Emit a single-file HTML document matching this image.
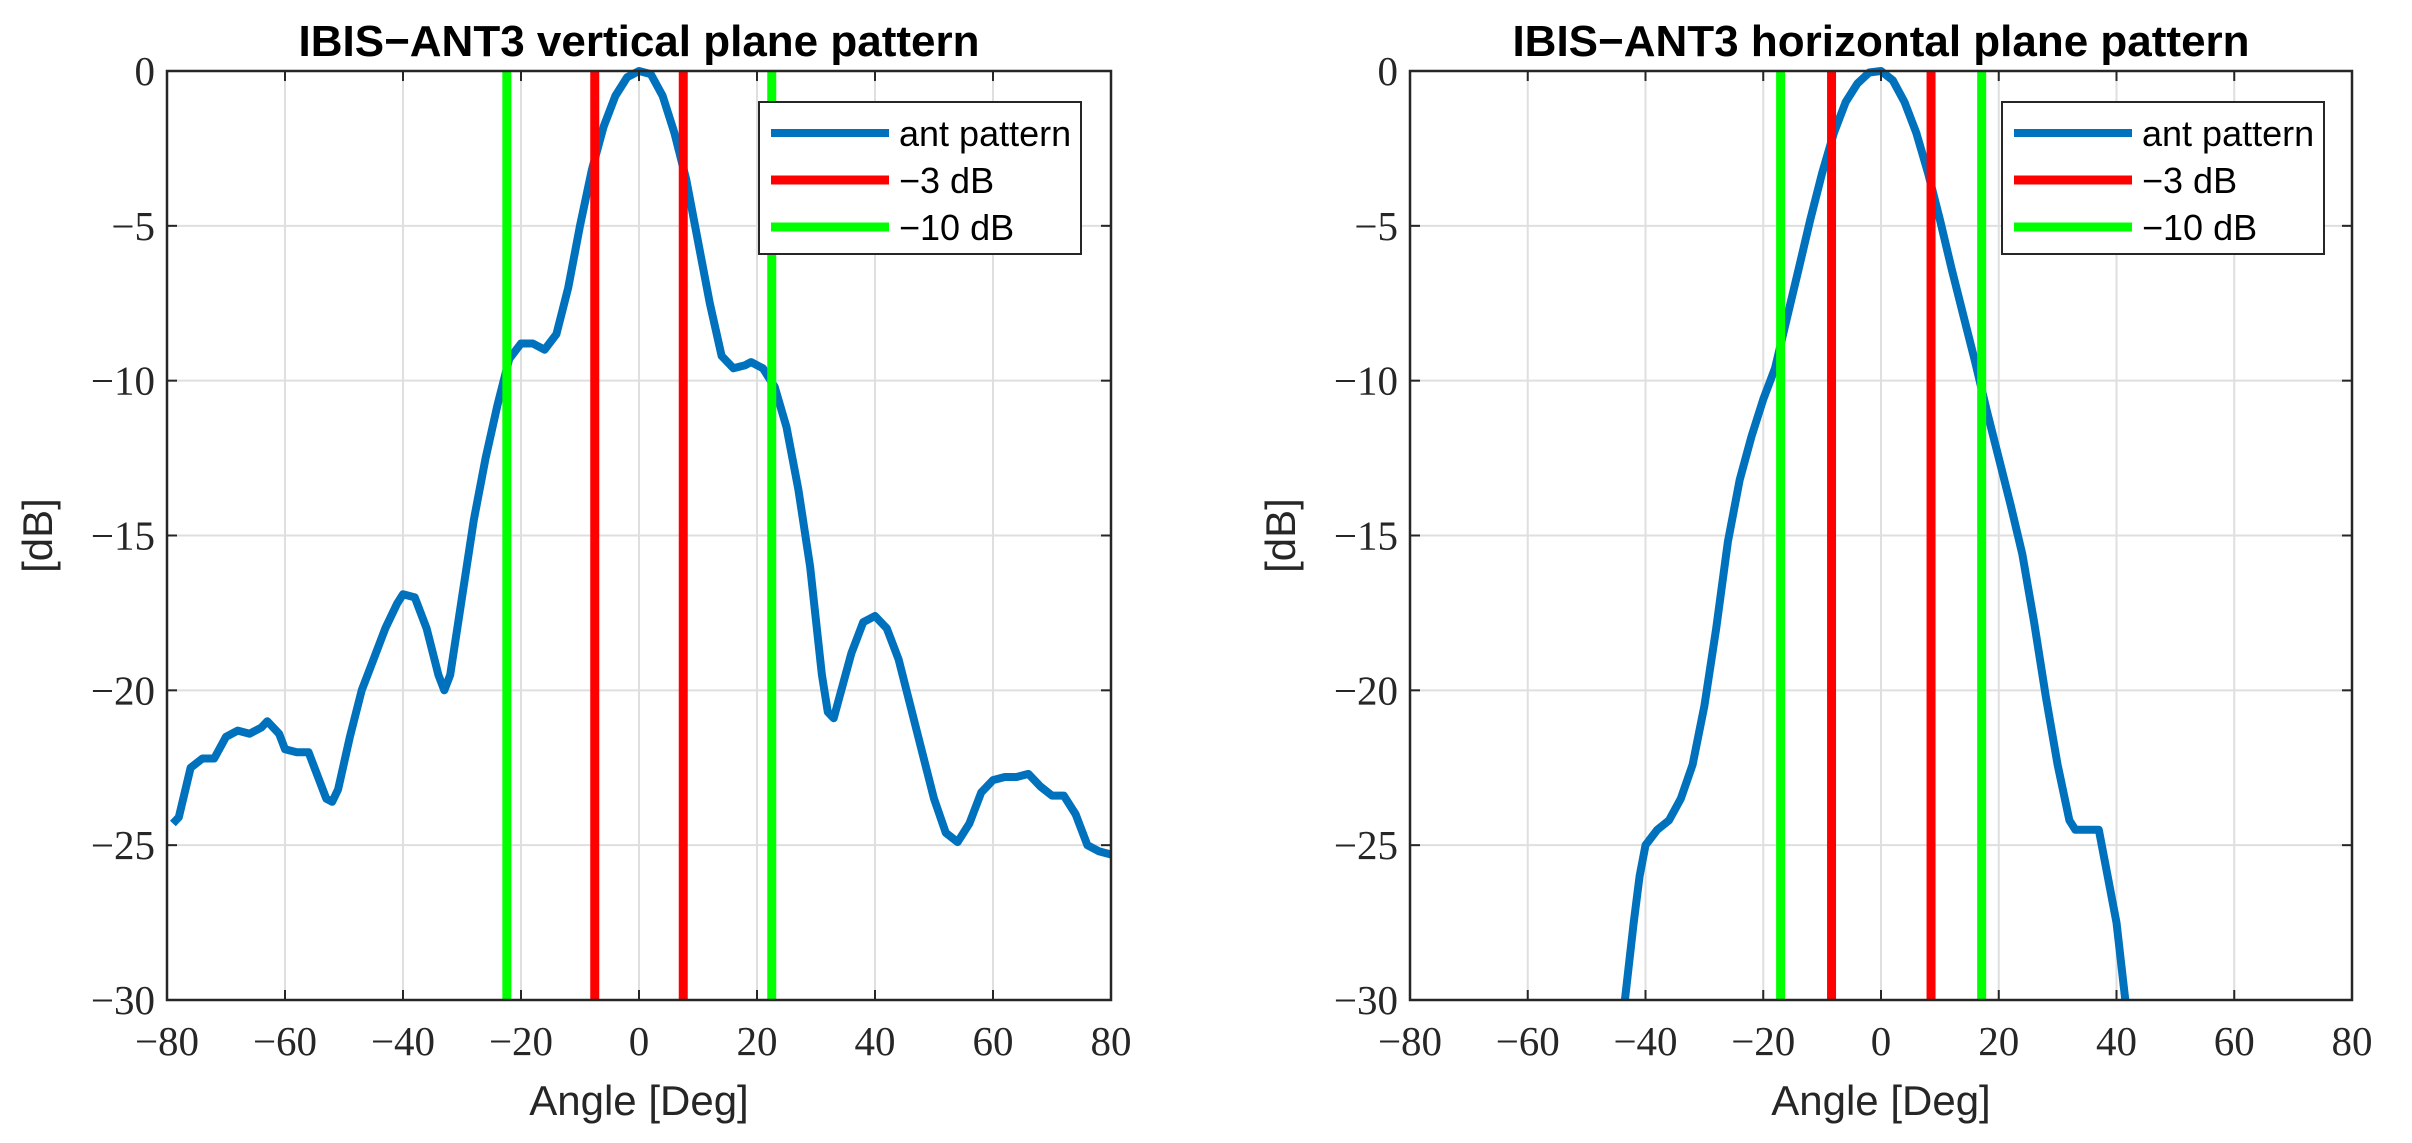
<!DOCTYPE html>
<html><head><meta charset="utf-8"><style>
body{margin:0;background:#fff}
svg{display:block}
.tick{font-family:"Liberation Serif",serif;font-size:41px;fill:#262626}
.lab{font-family:"Liberation Sans",sans-serif;font-size:42px;fill:#262626}
.ttl{font-family:"Liberation Sans",sans-serif;font-size:44px;font-weight:bold;fill:#000}
.leg{font-family:"Liberation Sans",sans-serif;font-size:36px;fill:#000}
</style></head><body>
<svg id="chart" width="2412" height="1143" viewBox="0 0 2412 1143" xmlns="http://www.w3.org/2000/svg"></svg>
<script>
const xTicks=[-80,-60,-40,-20,0,20,40,60,80];
const yTicks=[0,-5,-10,-15,-20,-25,-30];
const vAngles=[-79,-78,-76,-74,-72,-70,-68,-66,-64,-63,-61,-60,-58,-56,-55,-53,-52,-51,-49,-47,-45,-43,-41,-40,-38,-36,-34,-33,-32,-30,-28,-26,-24,-22,-20,-18,-16,-14,-12,-10,-8,-6,-4,-2,0,2,4,6,8,10,12,14,16,18,19,21,23,25,27,29,31,32,33,34,36,38,40,42,44,46,48,50,52,54,56,58,60,62,64,66,68,70,72,74,76,78,80];
const vGain=[-24.3,-24.1,-22.5,-22.2,-22.2,-21.5,-21.3,-21.4,-21.2,-21.0,-21.4,-21.9,-22.0,-22.0,-22.5,-23.5,-23.6,-23.2,-21.5,-20.0,-19.0,-18.0,-17.2,-16.9,-17.0,-18.0,-19.5,-20.0,-19.5,-17.0,-14.5,-12.5,-10.8,-9.3,-8.8,-8.8,-9.0,-8.5,-7.0,-5.0,-3.2,-1.8,-0.8,-0.2,0,-0.1,-0.8,-2.0,-3.5,-5.5,-7.5,-9.2,-9.6,-9.5,-9.4,-9.6,-10.2,-11.5,-13.5,-16.0,-19.5,-20.7,-20.9,-20.2,-18.8,-17.8,-17.6,-18.0,-19.0,-20.5,-22.0,-23.5,-24.6,-24.9,-24.3,-23.3,-22.9,-22.8,-22.8,-22.7,-23.1,-23.4,-23.4,-24.0,-25.0,-25.2,-25.3];
const hAngles=[-43.5,-42,-41,-40,-38,-36,-34,-32,-30,-28,-26,-24,-22,-20,-18,-16,-14,-12,-10,-8,-6,-4,-2,0,2,4,6,8,10,12,14,16,18,20,22,24,26,28,30,32,33,37,38,40,41.5];
const hGain=[-30,-27.5,-26.0,-25.0,-24.5,-24.2,-23.5,-22.4,-20.5,-18.0,-15.2,-13.2,-11.8,-10.6,-9.6,-8.0,-6.4,-4.8,-3.3,-2.0,-1.0,-0.4,-0.05,0,-0.3,-1.0,-2.0,-3.3,-4.8,-6.4,-7.9,-9.4,-11.0,-12.5,-14.0,-15.6,-17.8,-20.2,-22.4,-24.2,-24.5,-24.5,-25.5,-27.5,-30];
const v3dB=[-7.5,7.5];
const v10dB=[-22.4,22.5];
const h3dB=[-8.4,8.5];
const h10dB=[-17.05,17.1];
const titles=["IBIS\u2212ANT3 vertical plane pattern","IBIS\u2212ANT3 horizontal plane pattern"];

const NS="http://www.w3.org/2000/svg";
const svg=document.getElementById('chart');
function mk(t,a,p){const e=document.createElementNS(NS,t);for(const k in a)e.setAttribute(k,a[k]);(p||svg).appendChild(e);return e;}

function panel(idx,L,R,T,B,ang,gain,r3,g10,legX){
  const g=mk('g',{});
  
  
  const sx=v=>L+(v+80)/160*(R-L);
  const sy=v=>T+(-v)/30*(B-T);
  mk('rect',{x:L,y:T,width:R-L,height:B-T,fill:'#fff'},g);
  xTicks.forEach(t=>{
    const l=mk('line',{x1:sx(t),x2:sx(t),y1:T,y2:B,stroke:'#dfdfdf','stroke-width':2},g);
    
  });
  yTicks.forEach(t=>{
    const l=mk('line',{x1:L,x2:R,y1:sy(t),y2:sy(t),stroke:'#dfdfdf','stroke-width':2},g);
    
  });
  const cp=mk('clipPath',{id:'cp'+idx},g);
  mk('rect',{x:L,y:T-5,width:R-L,height:B-T+10},cp);
  const d=ang.map((a,i)=>(i?'L':'M')+sx(a).toFixed(1)+' '+sy(gain[i]).toFixed(1)).join(' ');
  const pl=mk('path',{d:d,fill:'none',stroke:'#0072bd','stroke-width':8,'stroke-linejoin':'round','clip-path':'url(#cp'+idx+')'},g);
  
  r3.forEach(a=>{const l=mk('line',{x1:sx(a),x2:sx(a),y1:T,y2:B,stroke:'#ff0000','stroke-width':9},g);
    });
  g10.forEach(a=>{const l=mk('line',{x1:sx(a),x2:sx(a),y1:T,y2:B,stroke:'#00ff00','stroke-width':9},g);
    });
  const box=mk('rect',{x:L,y:T,width:R-L,height:B-T,fill:'none',stroke:'#262626','stroke-width':2.5},g);
  
  xTicks.forEach(t=>{
    mk('line',{x1:sx(t),x2:sx(t),y1:B,y2:B-10,stroke:'#262626','stroke-width':2},g);
    mk('line',{x1:sx(t),x2:sx(t),y1:T,y2:T+10,stroke:'#262626','stroke-width':2},g);
    const tx=mk('text',{x:sx(t),y:B+55,'text-anchor':'middle',class:'tick'},g);
    tx.textContent=(t<0?'\u2212':'')+Math.abs(t);
    
  });
  yTicks.forEach(t=>{
    mk('line',{x1:L,x2:L+10,y1:sy(t),y2:sy(t),stroke:'#262626','stroke-width':2},g);
    mk('line',{x1:R,x2:R-10,y1:sy(t),y2:sy(t),stroke:'#262626','stroke-width':2},g);
    const tx=mk('text',{x:L-12,y:sy(t)+14,'text-anchor':'end',class:'tick'},g);
    tx.textContent=(t<0?'\u2212':'')+Math.abs(t);
    
  });
  const xl=mk('text',{x:(L+R)/2,y:1115,'text-anchor':'middle',class:'lab'},g);
  xl.textContent='Angle [Deg]';
  const yx=L-115,yy=(T+B)/2;
  const yl=mk('text',{x:yx,y:yy,'text-anchor':'middle',class:'lab',transform:'rotate(-90 '+yx+' '+yy+')'},g);
  yl.textContent='[dB]';
  const tt=mk('text',{x:(L+R)/2,y:56,'text-anchor':'middle',class:'ttl'},g);
  tt.textContent=titles[idx];
  const lg=mk('g',{},g);
  
  mk('rect',{x:legX,y:102,width:322,height:152,fill:'#fff',stroke:'#262626','stroke-width':2},lg);
  const items=[['ant pattern','#0072bd',8],['\u22123 dB','#ff0000',9],['\u221210 dB','#00ff00',9]];
  items.forEach((it,i)=>{
    const y=133+i*47;
    const e=mk('g',{},lg);
    
    mk('line',{x1:legX+12,x2:legX+130,y1:y,y2:y,stroke:it[1],'stroke-width':it[2]},e);
    const tx=mk('text',{x:legX+140,y:y+13,class:'leg'},e);tx.textContent=it[0];
  });
}
panel(0,167,1111,71,1000,vAngles,vGain,v3dB,v10dB,759);
panel(1,1410,2352,71,1000,hAngles,hGain,h3dB,h10dB,2002);
</script>
</body></html>
